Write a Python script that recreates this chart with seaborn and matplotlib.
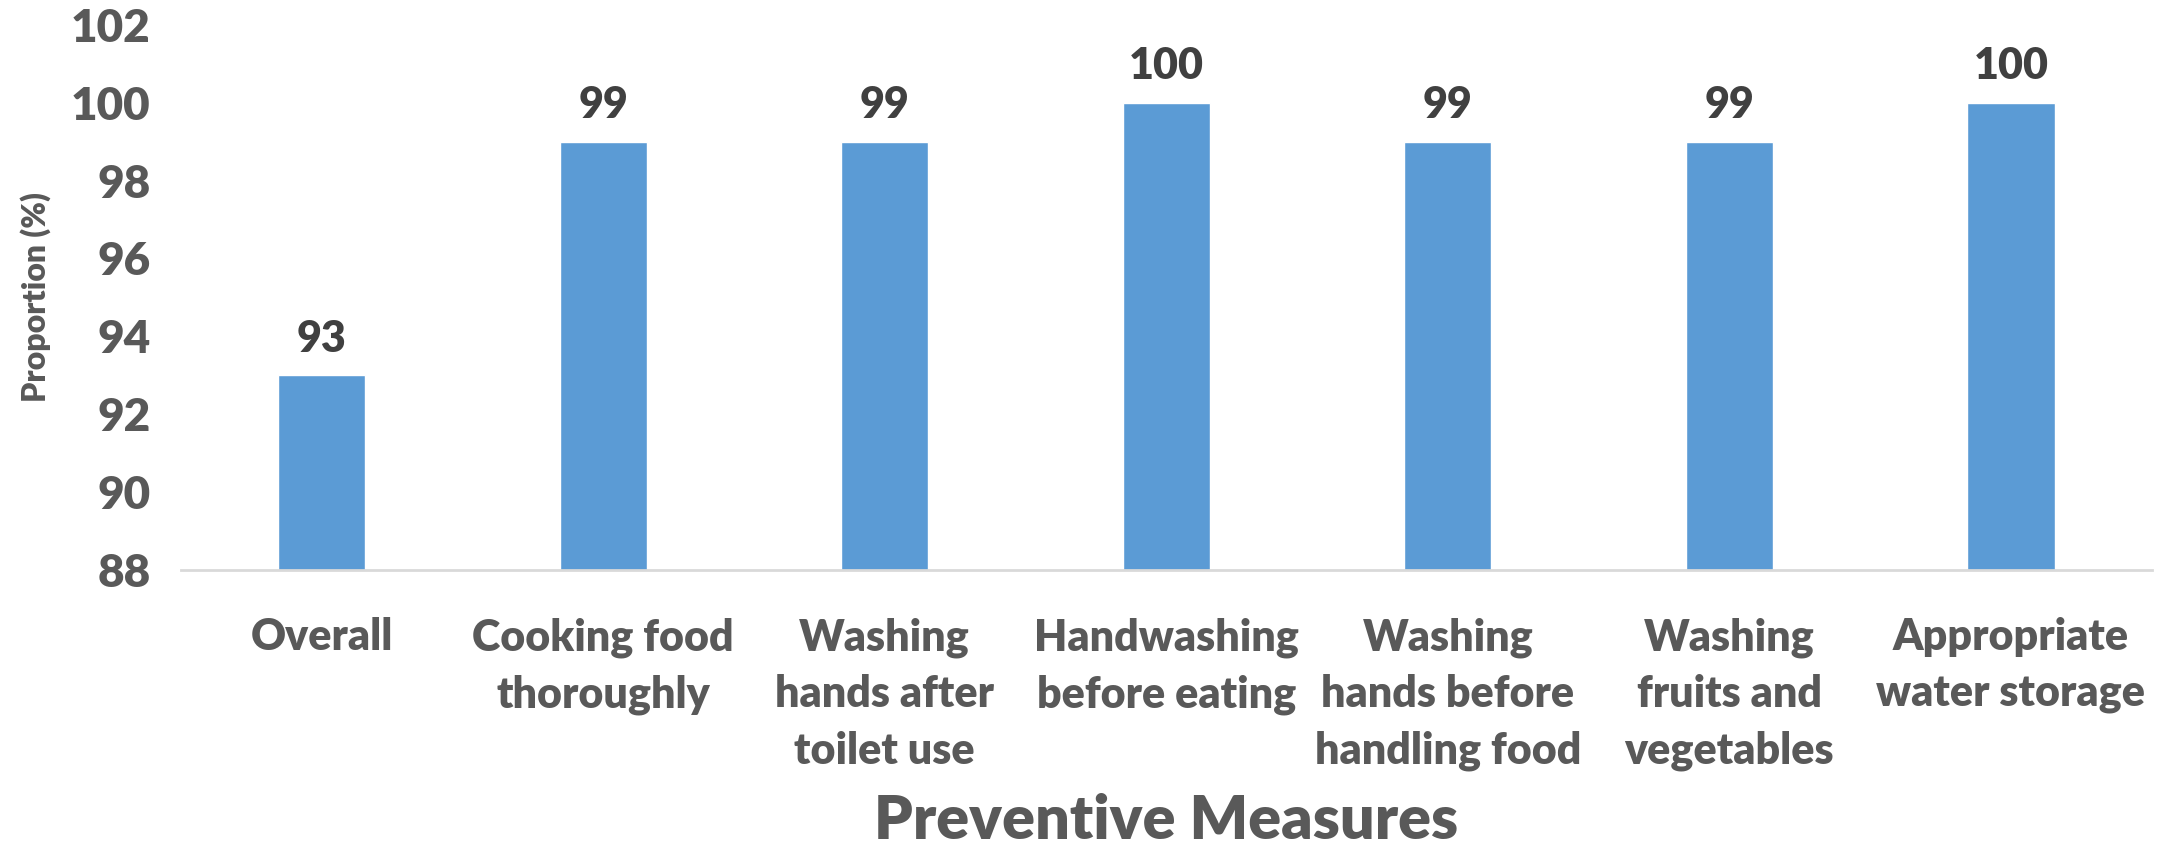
import matplotlib
matplotlib.use("Agg")
import matplotlib.pyplot as plt
import seaborn as sns
import pandas as pd

categories = [
    "Overall",
    "Cooking food\nthoroughly",
    "Washing\nhands after\ntoilet use",
    "Handwashing\nbefore eating",
    "Washing\nhands before\nhandling food",
    "Washing\nfruits and\nvegetables",
    "Appropriate\nwater storage",
]
values = [93, 99, 99, 100, 99, 99, 100]
y_ticks = [88, 90, 92, 94, 96, 98, 100, 102]

sns.set_theme(style="white")
plt.rcParams["font.family"] = ["Lato", "DejaVu Sans"]

df = pd.DataFrame({"category": categories, "value": values})

fig = plt.figure(figsize=(21.8, 8.52), dpi=100)
ax = fig.add_axes([0.083, 0.331, 0.904, 0.640])

sns.barplot(data=df, x="category", y="value", color="#5B9BD5", width=0.31,
            saturation=1, ax=ax)

W = "heavy"
ax.set_ylim(88, 102)
ax.set_xlim(-0.5, len(categories) - 0.5)
ax.set_yticks(y_ticks)
ax.set_yticklabels([str(t) for t in y_ticks], fontsize=33, fontweight=W, color="#595959")
ax.set_xticks(range(len(categories)))
ax.set_xticklabels(categories, fontsize=31, fontweight=W, color="#595959", linespacing=1.5)
ax.tick_params(axis="both", length=0)
ax.tick_params(axis="x", pad=34)
ax.tick_params(axis="y", pad=22)

for side in ["top", "right", "left"]:
    ax.spines[side].set_visible(False)
ax.spines["bottom"].set_color("#D9D9D9")
ax.spines["bottom"].set_linewidth(2)

for cont in ax.containers:
    ax.bar_label(cont, labels=[str(v) for v in values], padding=12,
                 fontsize=31, fontweight=W, color="#404040")

ax.set_ylabel("Proportion (%)", fontsize=23, fontweight=W, color="#595959", labelpad=14)
ax.set_xlabel("Preventive Measures", fontsize=44, fontweight=W, color="#595959", labelpad=16)

fig.savefig("out.png", dpi=100, facecolor="white")
